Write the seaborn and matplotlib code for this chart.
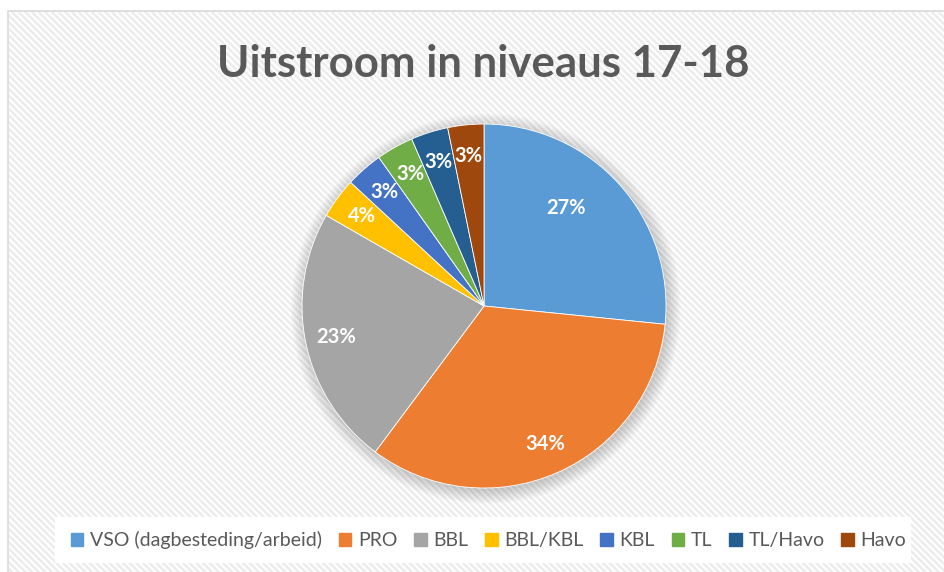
import numpy as np
import pandas as pd
import matplotlib
matplotlib.use("Agg")
import matplotlib.pyplot as plt
import matplotlib.patches as mpatches
import seaborn as sns

# data
categories = ["VSO (dagbesteding/arbeid)", "PRO", "BBL", "BBL/KBL", "KBL", "TL", "TL/Havo", "Havo"]
shares = [26.6, 33.6, 23.1, 3.6, 3.3, 3.3, 3.3, 3.2]
labels = ["27%", "34%", "23%", "4%", "3%", "3%", "3%", "3%"]
colors = ["#5B9BD5", "#ED7D31", "#A5A5A5", "#FFC000", "#4472C4", "#70AD47", "#255E91", "#9E480E"]

df = pd.DataFrame({"categorie": categories, "aandeel": shares, "label": labels})

sns.set_theme(style="white")
plt.rcParams['font.family'] = ['Lato', 'DejaVu Sans']
plt.rcParams['hatch.linewidth'] = 1.8

fig = plt.figure(figsize=(9.45, 5.72), dpi=100)

# achtergrond met diagonale arcering
bg = fig.add_axes([0, 0, 1, 1])
bg.set_xlim(0, 945)
bg.set_ylim(572, 0)
bg.axis("off")
bg.add_patch(mpatches.Rectangle((8, 11), 945, 572, facecolor="white",
                                edgecolor="#d9d9d9", lw=1.2))
bg.add_patch(mpatches.Rectangle((9, 12), 945, 572, facecolor="none",
                                edgecolor="#ececec", hatch="\\\\\\\\\\", lw=0))
bg.add_patch(mpatches.Rectangle((55, 517), 856, 46, facecolor="white", edgecolor="none"))

# taart
ax = fig.add_axes([0.2811, 0.0832, 0.4622, 0.7636])

# zachte schaduw
for r in np.linspace(1.07, 1.0, 8):
    ax.add_patch(mpatches.Circle((0.01, -0.015), r, facecolor="#000000",
                                 alpha=0.025, edgecolor="none", zorder=0))

wedges, texts, autotexts = ax.pie(
    df["aandeel"], colors=colors, startangle=90, counterclock=False,
    autopct="%.0f%%", pctdistance=0.83, radius=1.0,
    wedgeprops=dict(edgecolor="white", linewidth=0.6),
    textprops=dict(color="white", fontsize=14.5, fontweight="bold"))
for t, lab in zip(autotexts, df["label"]):
    t.set_text(lab)
autotexts[0].set_position((0.45, 0.54))

ax.set_xlim(-1.2, 1.2)
ax.set_ylim(-1.2, 1.2)
ax.set_aspect("equal")
ax.axis("off")

fig.text(0.511, 0.888, "Uitstroom in niveaus 17-18", ha="center", va="center",
         fontsize=31.5, fontweight="bold", color="#595959")

handles = [mpatches.Patch(color=c, label=l) for c, l in zip(colors, categories)]
fig.legend(handles=handles, loc="center", bbox_to_anchor=(0.517, 0.056), ncol=8,
           frameon=False, fontsize=14, handlelength=0.65, handleheight=0.65,
           handletextpad=0.35, columnspacing=0.85, labelcolor="#595959")

fig.savefig("out.png", dpi=100)
